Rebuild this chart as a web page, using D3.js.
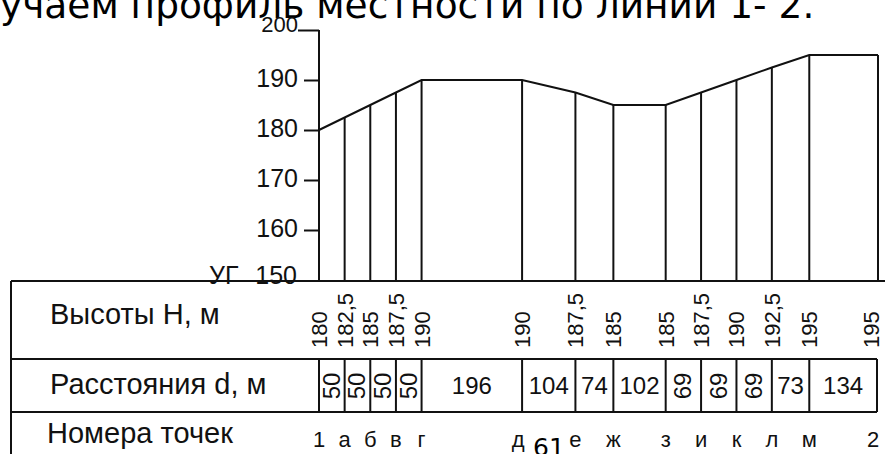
<!DOCTYPE html>
<html>
<head>
<meta charset="utf-8">
<script src="https://cdn.jsdelivr.net/npm/d3@7"></script>
<style>
  body { margin: 0; background: #fff; }
  svg { display: block; }
</style>
</head>
<body>
<svg id="chart"></svg>
<script>
// profile data
const pointNames = ["1", "а", "б", "в", "г", "д", "е", "ж", "з", "и", "к", "л", "м", "2"];
const heights = [180, 182.5, 185, 187.5, 190, 190, 187.5, 185, 185, 187.5, 190, 192.5, 195, 195];
const distances = [50, 50, 50, 50, 196, 104, 74, 102, 69, 69, 69, 73, 134];
const yTicks = [160, 170, 180, 190, 200];
const rowLabels = ["Высоты Н, м", "Расстояния d, м", "Номера точек"];
const titleText = "учаем профиль местности по линии 1- 2.";

function drawProfile() {
  const width = 885, height = 454;
  const tableTop = 281, rowH1 = 359, rowD = 412, tableLeft = 11, tableRight = 877;
  const ink = "#111";

  const svg = d3.select("#chart").attr("width", width).attr("height", height);

  // cumulative distance of every point from point 1
  const cum = [0];
  distances.forEach(d => cum.push(cum[cum.length - 1] + d));
  const pts = heights.map((h, i) => ({ h, d: cum[i], name: pointNames[i] }));

  const x = d3.scaleLinear().domain([0, d3.max(cum)]).range([319, 878]);
  const y = d3.scaleLinear().domain([150, 200]).range([280, 30]);

  // title line (cut off page text)
  svg.append("text")
    .attr("x", 0).attr("y", 18)
    .style("font-family", "DejaVu Sans")
    .style("font-size", "37.5px")
    .attr("fill", "#000")
    .text(titleText);

  // Y axis
  const yAxis = svg.append("g")
    .attr("transform", "translate(319,0)")
    .call(d3.axisLeft(y).tickValues(yTicks).tickSize(15).tickPadding(6).tickSizeOuter(0));
  yAxis.select(".domain").remove();
  yAxis.selectAll("line").attr("stroke", ink).attr("stroke-width", 2);
  yAxis.selectAll("text")
    .attr("dy", "0.25em")
    .attr("fill", ink)
    .style("font-family", "Liberation Sans")
    .style("font-size", "25px");
  yAxis.selectAll(".tick").filter(d => d === 200).select("line").attr("x2", -21);
  yAxis.selectAll(".tick").filter(d => d === 200).select("text").attr("x", -21).attr("dy", "0.05em").style("font-size", "22px");

  svg.append("line")
    .attr("x1", x(0)).attr("x2", x(0))
    .attr("y1", y(200)).attr("y2", tableTop)
    .attr("stroke", ink).attr("stroke-width", 2);

  // reference level label
  svg.append("text")
    .attr("x", 209).attr("y", 284)
    .style("font-family", "Liberation Sans").style("font-size", "25px")
    .attr("fill", ink).text("УГ");
  svg.append("text")
    .attr("x", 297).attr("y", 284).attr("text-anchor", "end")
    .style("font-family", "Liberation Sans").style("font-size", "25px")
    .attr("fill", ink).text("150");

  // profile line
  svg.append("path")
    .datum(pts)
    .attr("fill", "none")
    .attr("stroke", ink)
    .attr("stroke-width", 2)
    .attr("d", d3.line().x(p => x(p.d)).y(p => y(p.h)));

  // verticals from the ground down to the table
  svg.selectAll(".drop")
    .data(pts.slice(1))
    .enter().append("line")
    .attr("x1", p => x(p.d)).attr("x2", p => x(p.d))
    .attr("y1", p => y(p.h)).attr("y2", tableTop)
    .attr("stroke", ink).attr("stroke-width", 2);

  // table frame
  const frame = svg.append("g").attr("stroke", ink).attr("stroke-width", 2);
  frame.append("line").attr("x1", tableLeft).attr("x2", width).attr("y1", tableTop).attr("y2", tableTop);
  frame.append("line").attr("x1", tableLeft).attr("x2", tableLeft).attr("y1", tableTop).attr("y2", height);
  frame.append("line").attr("x1", tableLeft).attr("x2", tableRight).attr("y1", rowH1).attr("y2", rowH1);
  frame.append("line").attr("x1", tableLeft).attr("x2", tableRight).attr("y1", rowD).attr("y2", rowD);
  frame.selectAll(".dcell")
    .data(pts)
    .enter().append("line")
    .attr("x1", p => Math.min(x(p.d), tableRight)).attr("x2", p => Math.min(x(p.d), tableRight))
    .attr("y1", rowH1).attr("y2", rowD);

  // row captions
  const captionY = [324, 394, 443];
  const captionX = [50, 50, 47];
  rowLabels.forEach((t, i) => {
    svg.append("text")
      .attr("x", captionX[i]).attr("y", captionY[i])
      .style("font-family", "Liberation Sans").style("font-size", "29px")
      .attr("fill", ink).text(t);
  });

  const fmt = v => String(v).replace(".", ",");

  // heights, rotated
  svg.selectAll(".hlab")
    .data(pts)
    .enter().append("text")
    .attr("transform", p => `translate(${Math.min(x(p.d), 871) + 8},348) rotate(-90)`)
    .style("font-family", "Liberation Sans").style("font-size", "22px")
    .attr("fill", ink)
    .text(p => fmt(p.h));

  // distances
  const segs = distances.map((d, i) => ({ d, mid: (x(cum[i]) + Math.min(x(cum[i + 1]), tableRight)) / 2 }));
  svg.selectAll(".dlab")
    .data(segs)
    .enter().append("text")
    .attr("transform", s => s.d < 70
      ? `translate(${s.mid + 8},386) rotate(-90)`
      : `translate(${s.mid},394)`)
    .attr("text-anchor", "middle")
    .style("font-family", "Liberation Sans").style("font-size", "24px")
    .attr("fill", ink)
    .text(s => s.d);

  // point names
  svg.selectAll(".nlab")
    .data(pts)
    .enter().append("text")
    .attr("x", p => Math.min(x(p.d), 873) - (p.name === "д" ? 4 : 0))
    .attr("y", 447)
    .attr("text-anchor", "middle")
    .style("font-family", "Liberation Sans").style("font-size", "22px")
    .attr("fill", ink)
    .text(p => p.name);

  // page number showing through
  svg.append("text")
    .attr("x", 549).attr("y", 456)
    .attr("text-anchor", "middle")
    .style("font-family", "DejaVu Sans").style("font-size", "25px")
    .attr("fill", "#000")
    .text("61");
}

drawProfile();
</script>
</body>
</html>
